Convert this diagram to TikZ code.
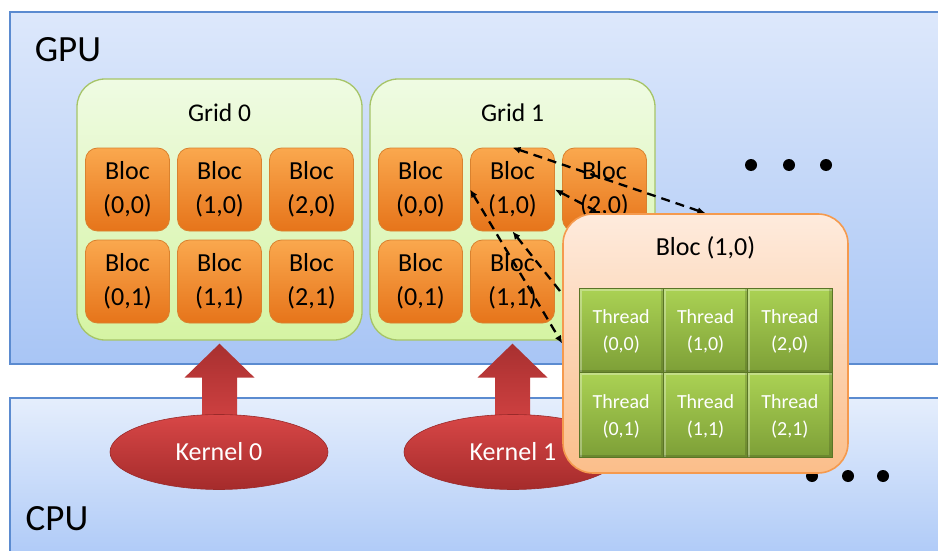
\documentclass[tikz,border=0pt]{standalone}
\usepackage{fontspec}
\setmainfont{Carlito}
\usetikzlibrary{shapes.geometric,arrows.meta,calc}

\definecolor{gpuTop}{HTML}{DDE8FB}
\definecolor{gpuBot}{HTML}{A8C5F5}
\definecolor{cpuTop}{HTML}{E5EEFC}
\definecolor{cpuBot}{HTML}{AAC7F7}
\definecolor{panelEdge}{HTML}{5B8BD0}
\definecolor{gridTop}{HTML}{EFFBE3}
\definecolor{gridBot}{HTML}{D5F4A3}
\definecolor{gridEdge}{HTML}{A6C468}
\definecolor{blocTop}{HTML}{FAA84E}
\definecolor{blocBot}{HTML}{E6741A}
\definecolor{blocEdge}{HTML}{D9822F}
\definecolor{bigTop}{HTML}{FEEBDD}
\definecolor{bigBot}{HTML}{FBBE8A}
\definecolor{bigEdge}{HTML}{F59A4E}
\definecolor{thrTop}{HTML}{ABD254}
\definecolor{thrBot}{HTML}{7D9F37}
\definecolor{thrEdge}{HTML}{5A7526}
\definecolor{redTop}{HTML}{D84747}
\definecolor{redBot}{HTML}{A52B2B}
\definecolor{redEdge}{HTML}{9A2A2A}
\definecolor{arrTop}{HTML}{A83030}
\definecolor{arrBot}{HTML}{D24242}

\pgfdeclarelayer{front}
\pgfsetlayers{main,front}

\tikzset{
  paneltitle/.style={font=\fontsize{37}{40}\selectfont, inner sep=0pt},
  gridbox/.style={rounded corners=28pt, top color=gridTop, bottom color=gridBot,
    draw=gridEdge, line width=1.3pt, minimum width=285pt, minimum height=261pt},
  gridtitle/.style={font=\fontsize{25.5}{28}\selectfont, inner sep=0pt},
  blocbox/.style={rounded corners=12pt, top color=blocTop, bottom color=blocBot,
    draw=blocEdge, line width=0.8pt, minimum width=84pt, minimum height=83pt,
    inner sep=0pt, align=center, font=\fontsize{26}{34}\selectfont},
  kernel/.style={ellipse, top color=redTop, bottom color=redBot, draw=redEdge,
    line width=0.6pt, minimum width=218pt, minimum height=75pt, inner sep=0pt,
    text=white, font=\fontsize{26}{28}\selectfont},
  launch/.style={top color=arrTop, bottom color=arrBot},
  bigbloc/.style={rounded corners=30pt, top color=bigTop, bottom color=bigBot,
    draw=bigEdge, line width=1.6pt, minimum width=285pt, minimum height=259pt},
  bigtitle/.style={font=\fontsize{26}{28}\selectfont, inner sep=0pt},
  threadcell/.style={top color=thrTop, bottom color=thrBot, draw=thrEdge,
    line width=0.8pt, minimum width=84.3pt, minimum height=84.5pt, inner sep=0pt,
    align=center, text=white, font=\fontsize{20}{27}\selectfont,
    text depth=-6pt,
    path picture={
      \draw[white, opacity=0.3, line width=5pt]
        (path picture bounding box.south west) -- (path picture bounding box.north west)
        -- (path picture bounding box.north east);
      \draw[black, opacity=0.15, line width=5pt]
        (path picture bounding box.north east) -- (path picture bounding box.south east)
        -- (path picture bounding box.south west);
    }},
  link/.style={black, line width=2.3pt, dash pattern=on 9pt off 6pt,
    {Latex[length=8pt,width=7pt]}-{Latex[length=8pt,width=7pt]}},
  ellipsis/.style={circle, fill=black, inner sep=0pt, minimum size=12pt}
}

\begin{document}
\begin{tikzpicture}[x=1pt,y=-1pt]
\useasboundingbox (0,0) rectangle (938,551);
\clip (0,0) rectangle (938,551);

% GPU and CPU panels
\shade[top color=gpuTop, bottom color=gpuBot, draw=panelEdge, line width=1.2pt]
  (10,12) rectangle (950,364);
\shade[top color=cpuTop, bottom color=cpuBot, draw=panelEdge, line width=1.2pt]
  (10,398) rectangle (950,570);
\node[paneltitle] (gpu) at (68,50) {GPU};
\node[paneltitle] (cpu) at (57,519) {CPU};

% grids with their blocks
\node[gridbox] (g0) at (219.5,209.5) {};
\node[gridbox] (g1) at (512.5,209.5) {};
\node[gridtitle] (g0t) at (219.5,113) {Grid 0};
\node[gridtitle] (g1t) at (512.5,113) {Grid 1};
\foreach \g/\gx in {0/219.5, 1/512.5}
  \foreach \c in {0,1,2}
    \foreach \r in {0,1}
      \node[blocbox] (g\g b\c\r) at ({\gx-92+92*\c},{189.5+92*\r}) {Bloc\\(\c,\r)};

% kernel launch arrows
\foreach \g in {0,1} {
  \begin{scope}[shift={(g\g.south)}]
    \shade[launch] (0,3) -- (35,37) -- (17.5,37) -- (17.5,85) -- (-17.5,85)
      -- (-17.5,37) -- (-35,37) -- cycle;
  \end{scope}
}
\node[kernel] (k0) at (219,452) {Kernel 0};
\node[kernel] (k1) at (513,452) {Kernel 1};

% more grids / more kernels
\node[ellipsis] (d1) at (751,165) {};
\node[ellipsis] (d2) at (789,165) {};
\node[ellipsis] (d3) at (826,165) {};
\node[ellipsis] (d4) at (812,476) {};
\node[ellipsis] (d5) at (848,476) {};
\node[ellipsis] (d6) at (883,476) {};

% zoomed view of block (1,0) of grid 1
\begin{pgfonlayer}{front}
  \node[bigbloc] (bb) at (705.5,343.5) {};
  \node[bigtitle] (bbt) at (705.5,248) {Bloc (1,0)};
  \foreach \c in {0,1,2}
    \foreach \r in {0,1}
      \node[threadcell] (t\c\r) at ({621.2+84.3*\c},{330.25+84.5*\r}) {Thread\\(\c,\r)};
\end{pgfonlayer}

% zoom guides
\draw[link] (g1b10.north) -- (bb.north);
\draw[link] (g1b10.east) -- (bb.east);
\draw[link] (g1b10.west) -- (bb.west);
\draw[link] (g1b10.south) -- (bb.south);
\end{tikzpicture}
\end{document}
